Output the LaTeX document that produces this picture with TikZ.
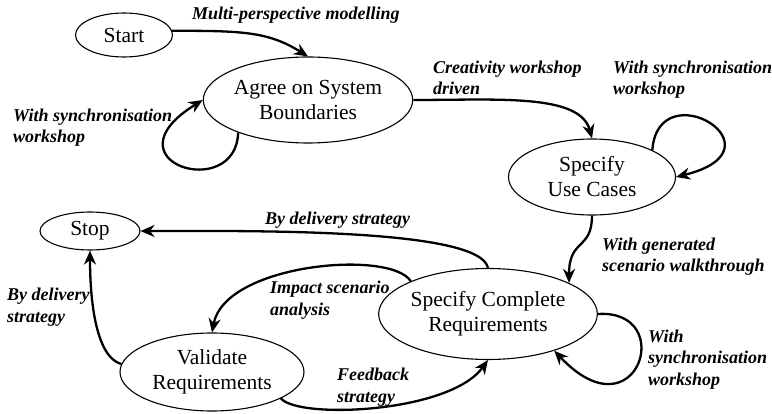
\documentclass[tikz,border=0pt]{standalone}
\usepackage{fontspec}
\setmainfont{Liberation Serif}
\usetikzlibrary{shapes, arrows.meta, positioning, calc}

\tikzset{
  state/.style={draw, ellipse, line width=1.1pt, inner sep=0pt, align=center,
    font=\fontsize{21.5}{25}\selectfont},
  trans/.style={line width=2.3pt, -{Stealth[length=14pt, width=12pt, inset=4.5pt]}},
  lbl/.style={anchor=base west, inner sep=0pt, align=left,
    font=\fontsize{18}{21.5}\selectfont\bfseries\itshape}
}

\begin{document}
\begin{tikzpicture}[x=1pt, y=1pt]
  \useasboundingbox (0,0) rectangle (772,413);

  % states
  \node[state, minimum width=97pt, minimum height=44pt] (start) at (124,378) {Start};
  \node[state, minimum width=193pt, minimum height=86pt] (agree) at (308,313) {Agree on System\\Boundaries};
  \node[state, minimum width=167pt, minimum height=76pt] (usecases) at (592,236) {Specify\\Use Cases};
  \node[state, minimum width=100pt, minimum height=38pt] (stop) at (90,182) {Stop};
  \node[state, minimum width=184pt, minimum height=78pt] (validate) at (212,41) {Validate\\Requirements};
  \node[state, minimum width=203pt, minimum height=91pt] (complete) at (488,99) {Specify Complete\\Requirements};

  % transitions
  \draw[trans] (start.5) .. controls +(70,0) and +(-40,25) .. (agree.north);
  \draw[trans] (agree.205) .. controls +(-2,-70) and +(-100,-62) .. (agree.west);
  \draw[trans] (agree.east) .. controls +(85,0) and +(-12,45) .. (usecases.north);
  \draw[trans] (usecases.24) .. controls +(6,80) and +(113,28) .. (usecases.east);
  \draw[trans] (usecases.south) .. controls +(0,-35) and +(0,45) .. (complete.21);
  \draw[trans] (complete.north) .. controls +(-8,40) and +(110,0) .. (stop.east);
  \draw[trans] (complete.157) .. controls +(-20,32) and +(13,69) .. (validate.north);
  \draw[trans] (validate.339) .. controls +(18,-21) and +(-38,-53) .. (complete.south);
  \draw[trans] (validate.175) .. controls +(-25,7) and +(0,-52) .. (stop.south);
  \draw[trans] (complete.east) .. controls +(80,5) and +(83,-88) .. (complete.331);

  % labels (base = last line)
  \node[lbl] (lmulti) at (192,393) {Multi-perspective modelling};
  \node[lbl] (lsynca) at (13,270) {With synchronisation\\workshop};
  \node[lbl] (lcreat) at (433,318) {Creativity workshop\\driven};
  \node[lbl] (lsyncb) at (613,318) {With synchronisation\\workshop};
  \node[lbl] (ldelia) at (265,188) {By delivery strategy};
  \node[lbl] (limpact) at (270,98) {Impact scenario\\analysis};
  \node[lbl] (ldelib) at (7,91) {By delivery\\strategy};
  \node[lbl] (lfeed) at (337,11) {Feedback\\strategy};
  \node[lbl] (lgen) at (602,141) {With generated\\scenario walkthrough};
  \node[lbl] (lsyncc) at (648,28) {With\\synchronisation\\workshop};
\end{tikzpicture}
\end{document}
